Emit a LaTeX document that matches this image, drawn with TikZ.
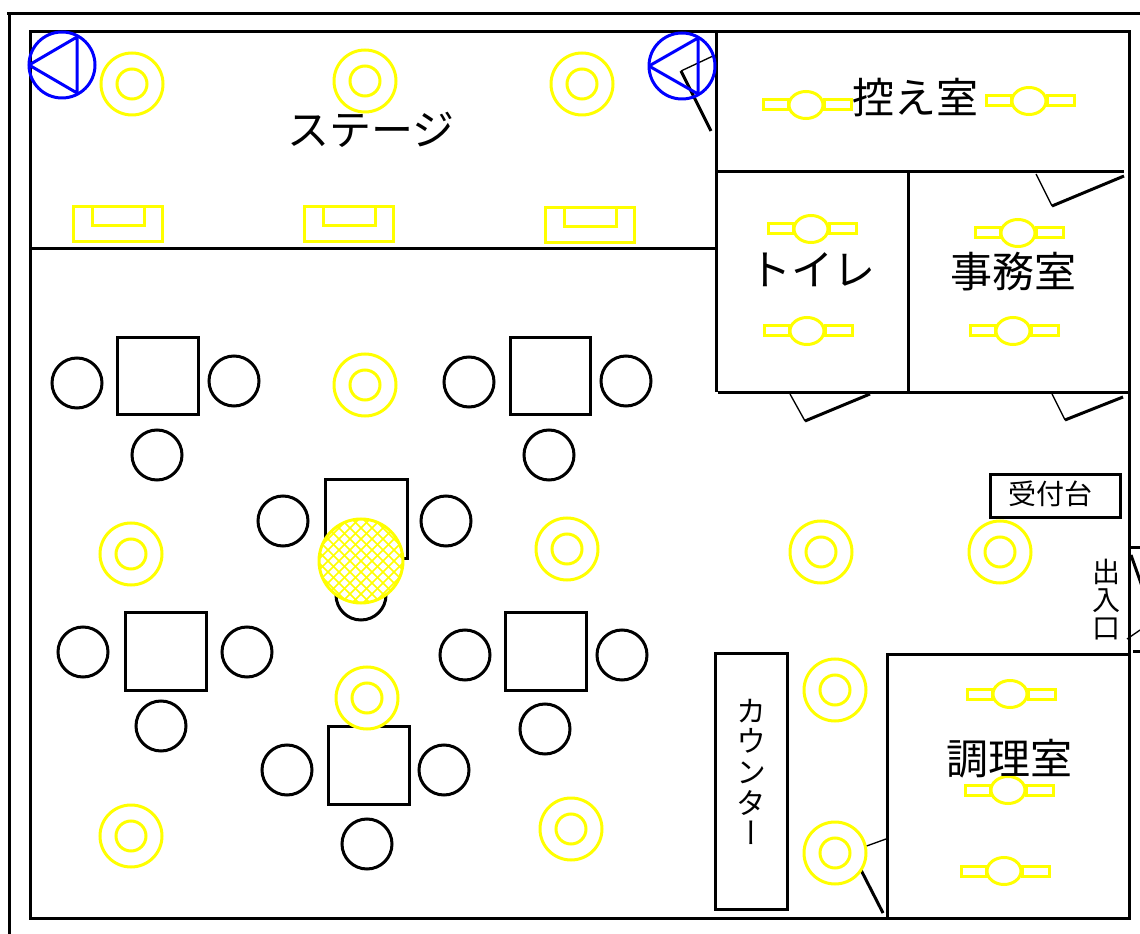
\documentclass[tikz,border=0pt]{standalone}
\usepackage{fontspec}
\setmainfont{Noto Sans CJK JP}
\newfontfamily\vjp[RawFeature={+vert}]{Noto Sans CJK JP}
\definecolor{lampy}{RGB}{255,255,0}
\definecolor{camb}{RGB}{0,0,255}
\newcommand{\spot}[2]{\filldraw[lamp,fill=white] (#1,#2) circle[radius=31] (#1,#2) circle[radius=15];}
\newcommand{\fixture}[2]{%
  \draw[lamp] ({#1-43},{#2-5}) rectangle ({#1-18},{#2+5});
  \draw[lamp] ({#1+18},{#2-5}) rectangle ({#1+45},{#2+5});
  \draw[lamp] (#1,#2) ellipse[x radius=17,y radius=13.5];}
\newcommand{\tabletop}[4]{\draw[seat] (#1,#2) rectangle (#3,#4);}
\newcommand{\chair}[2]{\draw[seat] (#1,#2) circle[radius=25];}
\newcommand{\stagelight}[2]{%
  \draw[lamp] (#1,#2) rectangle ({#1+89},{#2+35});
  \draw[lamp] ({#1+19},#2) rectangle ({#1+71},{#2+19});}
\newcommand{\camera}[5]{%
  \draw[cam] (#1,#2) circle[radius=#3];
  \draw[cam,line join=bevel] ({#1-#3},#2) -- ({#1+#4},{#2-#5}) -- ({#1+#4},{#2+#5}) -- cycle;}
\tikzset{
  x=0.75pt,y=-0.75pt,
  wall/.style={line width=2.25pt,draw=black},
  seat/.style={line width=2.25pt,draw=black},
  thin door/.style={line width=1pt,draw=black},
  thick door/.style={line width=2.25pt,draw=black},
  lamp/.style={line width=2.25pt,draw=lampy},
  cam/.style={line width=2.25pt,draw=camb},
  big label/.style={font=\fontsize{31.5}{36}\selectfont,inner sep=0pt},
  small label/.style={font=\fontsize{21}{24}\selectfont,inner sep=0pt},
}
\begin{document}
\begin{tikzpicture}
\useasboundingbox (0,0) rectangle (1140,934);
\fill[white] (0,0) rectangle (1140,934);
% outer lines
\draw[wall] (1140,14) -- (7,14);
\draw[wall] (9.5,14) -- (9.5,934);
% main walls
\draw[wall] (30,32) rectangle (1129.5,918);
\draw[wall] (30,249) -- (716,249);
\draw[wall] (716,32) -- (716,392);
\draw[wall] (716,172) -- (1124,172);
\draw[wall] (908.5,172) -- (908.5,393);
\draw[wall] (718,393) -- (1131,393);
\draw[wall] (887,654) rectangle (1129.5,918);
\draw[wall] (1130,547) -- (1140,547);
\draw[wall] (1133,651) -- (1140,651);
% counter and reception
\draw[wall] (715,653) rectangle (787,909);
\draw[wall] (990,475) rectangle (1120,517);
% doors
\coordinate (d1) at (681,71);
\draw[thin door] (713,56) -- (d1);
\draw[thick door] (d1) -- (711,131);
\coordinate (d2) at (1052,206);
\draw[thin door] (1036,174) -- (d2);
\draw[thick door] (d2) -- (1124,176);
\coordinate (d3) at (805,421);
\draw[thin door] (790,394) -- (d3);
\draw[thick door] (d3) -- (870,394);
\coordinate (d4) at (1065,420);
\draw[thin door] (1052,394) -- (d4);
\draw[thick door] (d4) -- (1123,397);
\draw[thick door] (1131,555) -- (1143,589);
\draw[thin door] (1127,639) -- (1143,628);
\draw[thin door] (886,839) -- (850,852);
\draw[thick door] (861,870) -- (883,913);
% tables and chairs
\tabletop{117}{338}{198}{415}
\tabletop{510}{338}{590}{415}
\tabletop{325}{480}{407}{558}
\tabletop{125}{612}{206}{690}
\tabletop{505}{612}{586}{690}
\tabletop{328}{726}{409}{804}
\chair{77}{383}\chair{234}{381}\chair{157}{455}
\chair{469}{382}\chair{626}{381}\chair{549}{455}
\chair{283}{521}\chair{446}{521}\chair{361}{595}
\chair{83}{652}\chair{247}{652}\chair{161}{726}
\chair{465}{655}\chair{622}{655}\chair{545}{729}
\chair{287}{770}\chair{444}{770}\chair{367}{844}
% spots
\spot{132}{84}\spot{365}{81}\spot{582}{84}
\spot{365}{385}\spot{131}{554}\spot{567}{549}
\spot{821}{552}\spot{1000}{552}\spot{835}{690}
\spot{367}{698}\spot{131}{836}\spot{571}{829}\spot{835}{853}
% hatched light
\fill[white] (361,561) circle[radius=42];
\begin{scope}
\clip (361,561) circle[radius=42];
\foreach \k in {-9,...,9}{
  \draw[lampy,line width=1.2pt] ({361+\k*11-60},501) -- ({361+\k*11+60},621);
  \draw[lampy,line width=1.2pt] ({361+\k*11+60},501) -- ({361+\k*11-60},621);
}
\end{scope}
\draw[lamp] (361,561) circle[radius=42];
% fixtures
\fixture{806}{105}\fixture{1029}{101}
\fixture{811}{229}\fixture{1018}{233}
\fixture{807}{331}\fixture{1013}{331}
\fixture{1010}{694}\fixture{1008}{790}\fixture{1004}{871}
\stagelight{73}{207}
\stagelight{304}{207}
\stagelight{545}{208}
% cameras
\camera{62}{65}{33}{15}{28}
\camera{682}{66}{33}{16}{28}
% labels
\node[big label] (stage) at (371,130) {ステージ};
\node[big label] (waiting) at (915,98) {控え室};
\node[big label] (toilet) at (812,270) {トイレ};
\node[big label] (office) at (1013,272) {事務室};
\node[big label] (kitchen) at (1009,759) {調理室};
\node[small label] (desk) at (1050,494) {受付台};
\node[small label,align=center] (entrance) at (1106,600) {出\\[-3pt]入\\[-3pt]口};
\node[inner sep=0pt,align=center,font=\vjp\fontsize{22.5}{23}\selectfont] (counter) at (751,772) {カ\\ウ\\ン\\タ\\ー};
\end{tikzpicture}
\end{document}
